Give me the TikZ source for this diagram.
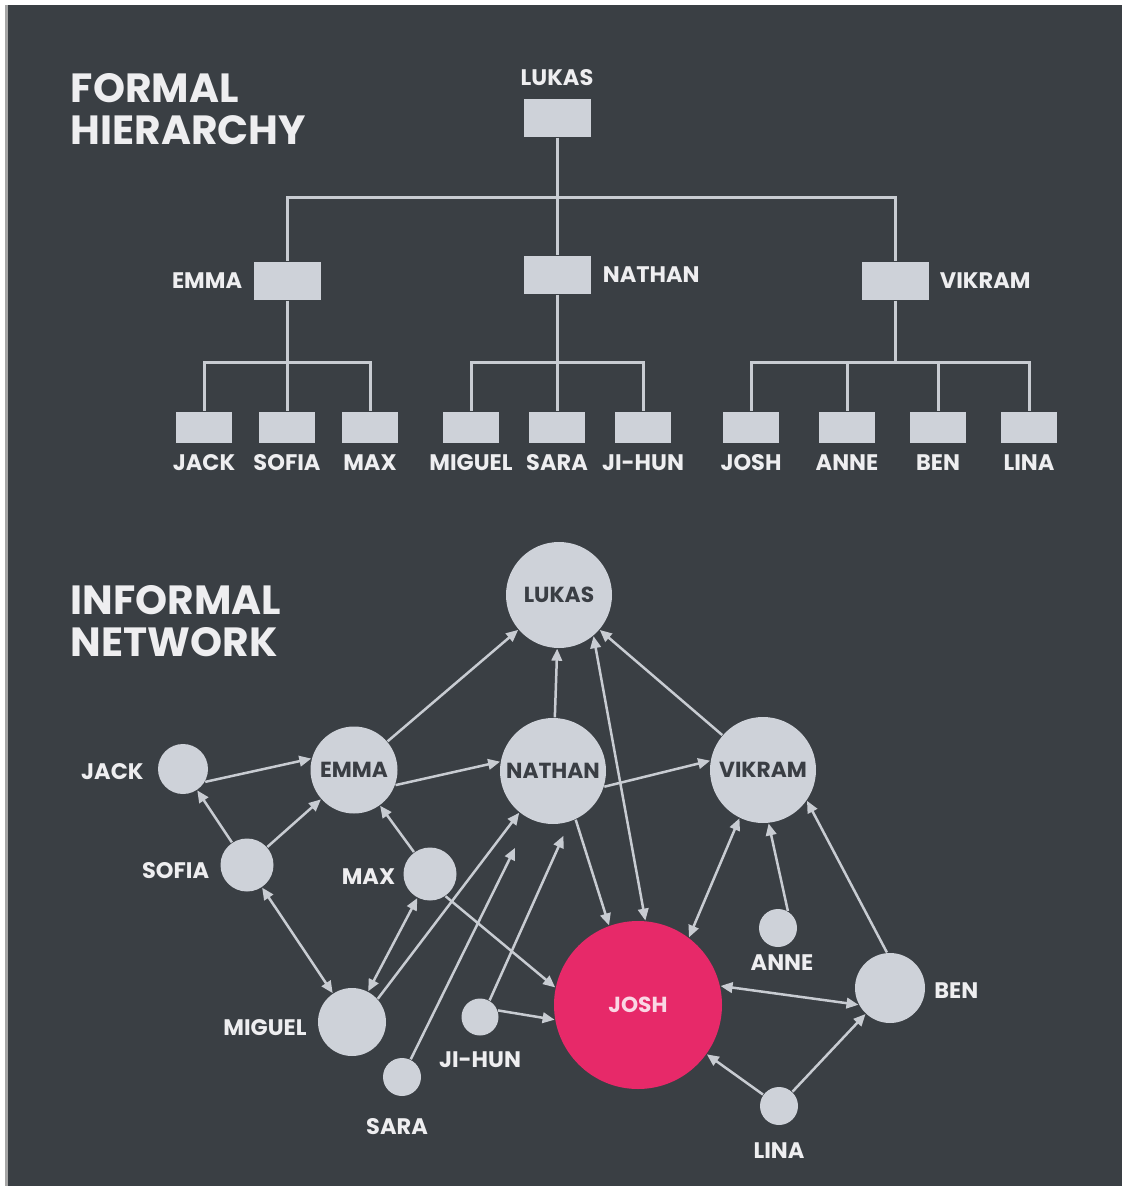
\documentclass[tikz,border=0pt]{standalone}
\usepackage{fontspec}
\setmainfont{Poppins}
\usepackage{tikz}
\usetikzlibrary{arrows.meta, positioning}
\definecolor{bgcolor}{RGB}{58,63,68}
\definecolor{boxcolor}{RGB}{206,210,217}
\definecolor{linecolor}{RGB}{200,204,210}
\definecolor{textcolor}{RGB}{238,238,240}
\definecolor{darktext}{RGB}{58,62,68}
\definecolor{joshcolor}{RGB}{231,41,105}
\definecolor{joshtext}{RGB}{250,215,228}
\tikzstyle{heading} = [font=\fontsize{11.6}{12}\selectfont\bfseries, color=textcolor, align=left, anchor=north west, inner sep=0pt]
\tikzstyle{nametext} = [font=\fontsize{6.4}{8}\selectfont\bfseries, color=textcolor, inner sep=0pt]
\tikzstyle{bigbox} = [rectangle, fill=boxcolor, minimum width=6.7mm, minimum height=3.8mm, inner sep=0pt]
\tikzstyle{smallbox} = [rectangle, fill=boxcolor, minimum width=5.6mm, minimum height=3.1mm, inner sep=0pt]
\tikzstyle{orgline} = [draw=linecolor, line width=0.3mm]
\tikzstyle{person} = [circle, fill=boxcolor, inner sep=0pt, font=\fontsize{6.2}{8}\selectfont\bfseries, text=darktext]
\tikzstyle{arrow} = [-{Triangle[length=1.2mm,width=1.05mm]}, draw=linecolor, line width=0.25mm]
\tikzstyle{dblarrow} = [{Triangle[length=1.2mm,width=1.05mm]}-{Triangle[length=1.2mm,width=1.05mm]}, draw=linecolor, line width=0.25mm]

\begin{document}
\begin{tikzpicture}[x=0.1mm, y=-0.1mm]
    \useasboundingbox (0,0) rectangle (1122,1188);
    % Background
    \fill[white] (0,0) rectangle (1122,1188);
    \fill[bgcolor] (7,5) rectangle (1122,1186);
    \fill[gray!70] (5,5) rectangle (8,1186);

    % Formal hierarchy
    \node[heading] (formal) at (70,73) {FORMAL\\HIERARCHY};
    \node[bigbox] (lukas1) at (557,118) {};
    \node[nametext, above=1.2mm of lukas1] {LUKAS};
    \node[bigbox] (emma1) at (287,281) {};
    \node[nametext, left=1mm of emma1] {EMMA};
    \node[bigbox] (nathan1) at (557,275) {};
    \node[nametext, right=1.1mm of nathan1] {NATHAN};
    \node[bigbox] (vikram1) at (895,281) {};
    \node[nametext, right=1mm of vikram1] {VIKRAM};

    \node[smallbox] (jack1) at (204,427) {};
    \node[smallbox] (sofia1) at (287,427) {};
    \node[smallbox] (max1) at (370,427) {};
    \node[smallbox] (miguel1) at (471,427) {};
    \node[smallbox] (sara1) at (557,427) {};
    \node[smallbox] (jihun1) at (643,427) {};
    \node[smallbox] (josh1) at (751,427) {};
    \node[smallbox] (anne1) at (847,427) {};
    \node[smallbox] (ben1) at (938,427) {};
    \node[smallbox] (lina1) at (1029,427) {};
    \node[nametext, below=1.1mm of jack1] {JACK};
    \node[nametext, below=1.1mm of sofia1] {SOFIA};
    \node[nametext, below=1.1mm of max1] {MAX};
    \node[nametext, below=1.1mm of miguel1] {MIGUEL};
    \node[nametext, below=1.1mm of sara1] {SARA};
    \node[nametext, below=1.1mm of jihun1] {JI-HUN};
    \node[nametext, below=1.1mm of josh1] {JOSH};
    \node[nametext, below=1.1mm of anne1] {ANNE};
    \node[nametext, below=1.1mm of ben1] {BEN};
    \node[nametext, below=1.1mm of lina1] {LINA};

    \coordinate (topbar) at (557,197);
    \draw[orgline] (lukas1.south) -- (topbar);
    \draw[orgline] (topbar) -| (emma1.north);
    \draw[orgline] (topbar) -- (nathan1.north);
    \draw[orgline] (topbar) -| (vikram1.north);
    \coordinate (emmabar) at (287,362);
    \draw[orgline] (emma1.south) -- (emmabar);
    \draw[orgline] (emmabar) -| (jack1.north);
    \draw[orgline] (emmabar) -- (sofia1.north);
    \draw[orgline] (emmabar) -| (max1.north);
    \coordinate (nathanbar) at (557,362);
    \draw[orgline] (nathan1.south) -- (nathanbar);
    \draw[orgline] (nathanbar) -| (miguel1.north);
    \draw[orgline] (nathanbar) -- (sara1.north);
    \draw[orgline] (nathanbar) -| (jihun1.north);
    \coordinate (vikrambar) at (895,362);
    \draw[orgline] (vikram1.south) -- (vikrambar);
    \draw[orgline] (vikrambar) -| (josh1.north);
    \draw[orgline] (vikrambar) -| (anne1.north);
    \draw[orgline] (vikrambar) -| (ben1.north);
    \draw[orgline] (vikrambar) -| (lina1.north);

    % Informal network
    \node[heading] (informal) at (70,585) {INFORMAL\\NETWORK};
    \node[person, minimum size=10.6mm] (lukas2) at (559,595) {LUKAS};
    \node[person, minimum size=8.7mm] (emma2) at (354,770) {EMMA};
    \node[person, minimum size=10.6mm] (nathan2) at (553,771) {NATHAN};
    \node[person, minimum size=10.6mm] (vikram2) at (763,770) {VIKRAM};
    \node[person, minimum size=5mm] (jack2) at (183,769) {};
    \node[person, minimum size=5.3mm] (sofia2) at (247,865) {};
    \node[person, minimum size=5.3mm] (max2) at (430,874) {};
    \node[person, minimum size=6.8mm] (miguel2) at (352,1022) {};
    \node[person, minimum size=3.8mm] (sara2) at (402,1077) {};
    \node[person, minimum size=3.7mm] (jihun2) at (480,1017) {};
    \node[person, minimum size=16.8mm, fill=joshcolor, text=joshtext] (josh2) at (638,1005) {JOSH};
    \node[person, minimum size=3.8mm] (anne2) at (778,928) {};
    \node[person, minimum size=7mm] (ben2) at (890,988) {};
    \node[person, minimum size=3.8mm] (lina2) at (779,1106) {};
    \node[nametext, left=1.3mm of jack2, yshift=-0.3mm] {JACK};
    \node[nametext, left=1mm of sofia2, yshift=-0.6mm] {SOFIA};
    \node[nametext, left=0.7mm of max2, yshift=-0.3mm] {MAX};
    \node[nametext, left=1mm of miguel2, yshift=-0.6mm] {MIGUEL};
    \node[nametext, below=2.1mm of sara2, xshift=-0.5mm] {SARA};
    \node[nametext, below=1.5mm of jihun2] {JI-HUN};
    \node[nametext, below=0.6mm of anne2, xshift=0.4mm] {ANNE};
    \node[nametext, right=0.8mm of ben2, yshift=-0.3mm] {BEN};
    \node[nametext, below=1.6mm of lina2] {LINA};

    \draw[arrow] (jack2.-30) -- (emma2.165);
    \draw[arrow] (sofia2) -- (jack2);
    \draw[arrow] (sofia2) -- (emma2);
    \draw[arrow] (max2) -- (emma2);
    \draw[arrow] (emma2) -- (lukas2);
    \draw[arrow] (emma2.-20) -- (nathan2.170);
    \draw[arrow] (nathan2) -- (lukas2);
    \draw[arrow] (nathan2.-17) -- (vikram2.170);
    \draw[arrow] (vikram2) -- (lukas2);
    \draw[dblarrow] (lukas2.-50) -- (josh2.85);
    \draw[arrow] (nathan2.-65) -- (josh2.110);
    \draw[dblarrow] (sofia2) -- (miguel2);
    \draw[dblarrow] (max2) -- (miguel2);
    \draw[arrow] (max2.-55) -- (josh2.168);
    \draw[arrow] (miguel2.42) -- (nathan2.-129);
    \draw[arrow, shorten >=3.2mm] (sara2) -- (nathan2);
    \draw[arrow, shorten >=1.5mm] (jihun2.60) -- (nathan2.-72);
    \draw[arrow] (jihun2.20) -- (josh2.190);
    \draw[dblarrow] (vikram2.-116) -- (josh2.53);
    \draw[arrow] (anne2.60) -- (vikram2.-84);
    \draw[arrow] (ben2.95) -- (vikram2.-35);
    \draw[dblarrow] (josh2.13) -- (ben2.208);
    \draw[arrow] (lina2) -- (josh2);
    \draw[arrow] (lina2) -- (ben2);
\end{tikzpicture}
\end{document}
